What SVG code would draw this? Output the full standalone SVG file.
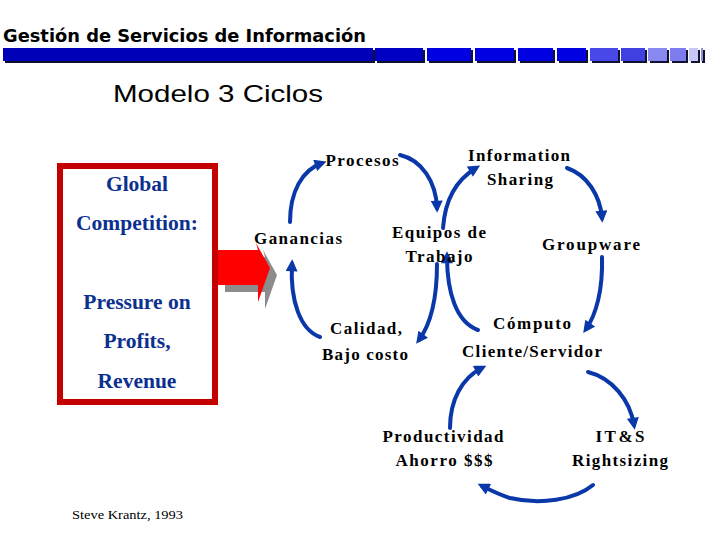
<svg xmlns="http://www.w3.org/2000/svg" width="720" height="540" viewBox="0 0 720 540">
<style>
.lbl{font-family:"Liberation Serif","Times New Roman",serif;font-weight:bold;font-size:17px;fill:#000;text-anchor:middle}
.box{font-family:"Liberation Serif","Times New Roman",serif;font-weight:bold;font-size:21.5px;fill:#0b3090;text-anchor:middle}
.arr{fill:none;stroke:#0a38a8;stroke-width:4;stroke-linecap:round;marker-end:url(#ah)}
.sh{fill:#101030}
</style>
<defs>
<marker id="ah" viewBox="0 0 10 10" refX="6" refY="5" markerWidth="3.5" markerHeight="3" orient="auto" markerUnits="strokeWidth">
<path d="M0,0 L10,5 L0,10 z" fill="#0a38a8"/>
</marker>
</defs>
<rect width="720" height="540" fill="#fff"/>
<g id="header">
<text x="3" y="42" font-family="DejaVu Sans Condensed, DejaVu Sans, sans-serif" font-weight="bold" font-size="17" textLength="363" lengthAdjust="spacingAndGlyphs" fill="#000">Gestión de Servicios de Información</text>
<g id="bar">
<rect class="sh" x="5" y="50" width="370" height="13"/><rect x="3" y="48" width="370" height="13" fill="#0000b8"/>
<rect class="sh" x="377" y="50" width="48" height="13"/><rect x="375" y="48" width="48" height="13" fill="#0000c4"/>
<rect class="sh" x="429" y="50" width="44" height="13"/><rect x="427" y="48" width="44" height="13" fill="#0000e0"/>
<rect class="sh" x="477" y="50" width="39" height="13"/><rect x="475" y="48" width="39" height="13" fill="#0000e0"/>
<rect class="sh" x="520" y="50" width="35" height="13"/><rect x="518" y="48" width="35" height="13" fill="#0000e0"/>
<rect class="sh" x="559" y="50" width="29" height="13"/><rect x="557" y="48" width="29" height="13" fill="#0000e0"/>
<rect class="sh" x="592" y="50" width="28" height="13"/><rect x="590" y="48" width="28" height="13" fill="#4848e8"/>
<rect class="sh" x="623" y="50" width="24" height="13"/><rect x="621" y="48" width="24" height="13" fill="#4040e0"/>
<rect class="sh" x="650" y="50" width="19" height="13"/><rect x="648" y="48" width="19" height="13" fill="#8888f0"/>
<rect class="sh" x="672" y="50" width="16" height="13"/><rect x="670" y="48" width="16" height="13" fill="#7c7cee"/>
<rect class="sh" x="691" y="50" width="9" height="13"/><rect x="689" y="48" width="9" height="13" fill="#c8c8f8"/>
<rect class="sh" x="702" y="50" width="3" height="13"/><rect x="701" y="48" width="2" height="13" fill="#9090d0"/>
</g>
<text x="113" y="102" font-family="Liberation Sans, Arial, sans-serif" font-size="24" textLength="210" lengthAdjust="spacingAndGlyphs" fill="#000">Modelo 3 Ciclos</text>
</g>
<g id="pressure-box">
<rect x="60" y="166" width="155" height="236" fill="#fff" stroke="#c40000" stroke-width="6"/>
<text class="box" x="137" y="191">Global</text>
<text class="box" x="137" y="230">Competition:</text>
<text class="box" x="137" y="309">Pressure on</text>
<text class="box" x="137" y="348">Profits,</text>
<text class="box" x="137" y="388">Revenue</text>
</g>
<g id="big-arrow">
<path d="M225,257 L265,257 L263,250 L277,275 L265,309 L265,292 L225,292 z" fill="#8c8c8c"/>
<path d="M218,250 L258,250 L256,243 L270,268 L258,302 L258,285 L218,285 z" fill="#ff0000"/>
</g>
<g id="connectors">
<path class="arr" d="M290,222 C290,192 302,170 322,163"/>
<path class="arr" d="M400,155 C422,160 436,182 437,208"/>
<path class="arr" d="M437,264 C437,300 430,325 419,340"/>
<path class="arr" d="M320,337 C300,330 290,300 292,264"/>
<path class="arr" d="M443,228 C445,200 456,180 476,168"/>
<path class="arr" d="M567,168 C587,175 600,195 602,218"/>
<path class="arr" d="M602,257 C603,290 596,315 586,329"/>
<path class="arr" d="M478,330 C456,322 447,292 447,256"/>
<path class="arr" d="M450,428 C450,400 462,378 482,368"/>
<path class="arr" d="M588,372 C612,378 630,400 634,425"/>
<path class="arr" d="M593,485 C575,500 540,505 510,498 C500,495 490,490 482,486"/>
</g>
<g id="n-procesos"><text class="lbl" x="362" y="166" textLength="73" lengthAdjust="spacing">Procesos</text></g>
<g id="n-info"><text class="lbl" x="519" y="161" textLength="102" lengthAdjust="spacing">Information</text><text class="lbl" x="520" y="185" textLength="66" lengthAdjust="spacing">Sharing</text></g>
<g id="n-ganancias"><text class="lbl" x="298" y="244" textLength="88" lengthAdjust="spacing">Ganancias</text></g>
<g id="n-equipos"><text class="lbl" x="439" y="238" textLength="94" lengthAdjust="spacing">Equipos de</text><text class="lbl" x="439" y="262" textLength="67" lengthAdjust="spacing">Trabajo</text></g>
<g id="n-groupware"><text class="lbl" x="591" y="250" textLength="98" lengthAdjust="spacing">Groupware</text></g>
<g id="n-calidad"><text class="lbl" x="366" y="334" textLength="72" lengthAdjust="spacing">Calidad,</text><text class="lbl" x="365" y="360" textLength="86" lengthAdjust="spacing">Bajo costo</text></g>
<g id="n-computo"><text class="lbl" x="532" y="329" textLength="78" lengthAdjust="spacing">Cómputo</text><text class="lbl" x="532" y="357" textLength="140" lengthAdjust="spacing">Cliente/Servidor</text></g>
<g id="n-productividad"><text class="lbl" x="443" y="442" textLength="121" lengthAdjust="spacing">Productividad</text><text class="lbl" x="444" y="466" textLength="97" lengthAdjust="spacing">Ahorro $$$</text></g>
<g id="n-its"><text class="lbl" x="620" y="442" textLength="49" lengthAdjust="spacing">IT&amp;S</text><text class="lbl" x="620" y="466" textLength="96" lengthAdjust="spacing">Rightsizing</text></g>
<g id="credit"><text x="72" y="519" font-family="Liberation Serif, Times New Roman, serif" font-size="13" textLength="111" lengthAdjust="spacingAndGlyphs" fill="#000">Steve Krantz, 1993</text></g>
</svg>
